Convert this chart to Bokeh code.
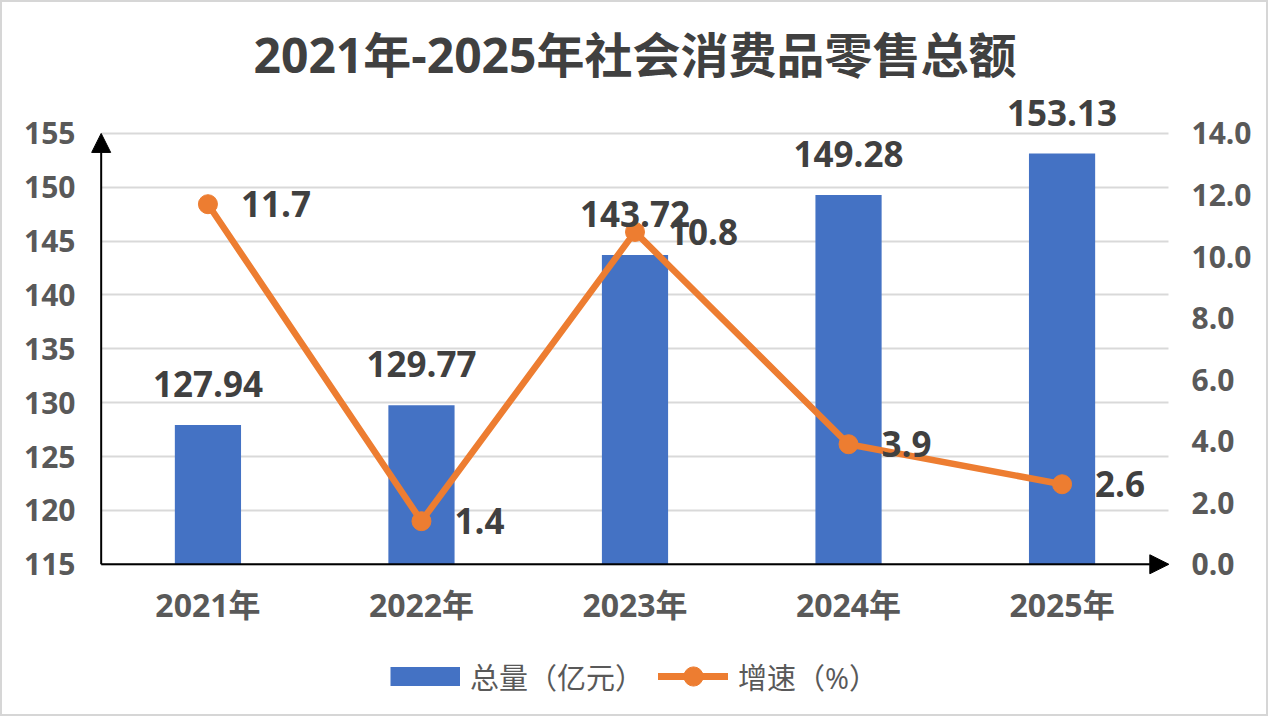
from bokeh.plotting import figure
from bokeh.layouts import column
from bokeh.models import (ColumnDataSource, Range1d, FactorRange, LinearAxis, FixedTicker,
                          PrintfTickFormatter, LabelSet, Legend, LegendItem, Arrow, NormalHead)
from bokeh.core.properties import value
from bokeh.embed import file_html
from bokeh.resources import INLINE

# ---- data ----
years = ["2021年", "2022年", "2023年", "2024年", "2025年"]
totals = [127.94, 129.77, 143.72, 149.28, 153.13]
growth = [11.7, 1.4, 10.8, 3.9, 2.6]
total_labels = ["127.94", "129.77", "143.72", "149.28", "153.13"]
growth_labels = ["11.7", "1.4", "10.8", "3.9", "2.6"]
left_ticks = [115, 120, 125, 130, 135, 140, 145, 150, 155]
right_ticks = [0, 2, 4, 6, 8, 10, 12, 14]
title_text = "2021年-2025年社会消费品零售总额"
legend_labels = ["总量（亿元）", "增速（%）"]

FONT = "Open Sans, Noto Sans CJK SC"
BLUE = "#4472C4"
ORANGE = "#ED7D31"
GRAY = "#595959"
DARK = "#404040"

src = ColumnDataSource(dict(year=years, total=totals, growth=growth,
                            tlab=total_labels, glab=growth_labels))

# ranges padded a little so that the axis arrows are not clipped
L0, L1 = left_ticks[0], left_ticks[-1]
R0, R1 = right_ticks[0], right_ticks[-1]
pad_lo, pad_hi = 0.95, 3.8
k = (R1 - R0) / (L1 - L0)
y_range = Range1d(L0 - pad_lo, L1 + pad_hi)
right_range = Range1d(R0 - pad_lo * k, R1 + pad_hi * k)
x_range = FactorRange(factors=years, range_padding=0.05, range_padding_units="absolute")

W = 1264
H_MAIN = 640
H_LEG = 72

p = figure(x_range=x_range, y_range=y_range,
           width=W, height=H_MAIN, output_backend="svg", toolbar_location=None,
           min_border_left=88, min_border_right=87, min_border_top=90, min_border_bottom=68)
p.outline_line_color = None
p.background_fill_color = "white"
p.border_fill_color = "white"

p.title.text = title_text
p.title.align = "center"
p.title.text_font = FONT
p.title.text_font_size = "48px"
p.title.text_font_style = "bold"
p.title.text_color = DARK
p.title.standoff = 12

p.extra_y_ranges = {"right": right_range}

bars = p.vbar(x="year", top="total", bottom=L0, width=0.31, source=src,
              fill_color=BLUE, line_color=None)
line = p.line(x="year", y="growth", source=src, y_range_name="right",
              line_color=ORANGE, line_width=6.5)
dots = p.scatter(x="year", y="growth", source=src, y_range_name="right",
                 size=19, fill_color=ORANGE, line_color=ORANGE)

# axes
p.yaxis.ticker = FixedTicker(ticks=left_ticks)
for ax in [p.yaxis[0], p.xaxis[0]]:
    ax.axis_line_color = None
    ax.major_tick_line_color = None
    ax.minor_tick_line_color = None
    ax.major_label_text_font = FONT
    ax.major_label_text_font_style = "bold"
    ax.major_label_text_color = GRAY
p.yaxis.major_label_text_font_size = "30px"
p.yaxis.major_label_standoff = 9
p.xaxis.major_label_text_font_size = "32px"
p.xaxis.major_label_standoff = 2

rax = LinearAxis(y_range_name="right", ticker=FixedTicker(ticks=right_ticks),
                 formatter=PrintfTickFormatter(format="%.1f"))
rax.axis_line_color = None
rax.major_tick_line_color = None
rax.minor_tick_line_color = None
rax.major_label_text_font = FONT
rax.major_label_text_font_style = "bold"
rax.major_label_text_color = GRAY
rax.major_label_text_font_size = "30px"
rax.major_label_standoff = 6
p.add_layout(rax, "right")

p.xgrid.grid_line_color = None
p.ygrid.grid_line_color = "#D9D9D9"
p.ygrid.grid_line_width = 2
try:
    p.ygrid.cross_bounds = (0, len(years))
except Exception:
    pass

# axis arrows
p.add_layout(Arrow(end=NormalHead(size=19, fill_color="black", line_color="black"),
                   x_start=0, y_start=L0, x_end=0, y_end=L1,
                   line_color="black", line_width=2))
p.add_layout(Arrow(end=NormalHead(size=19, fill_color="black", line_color="black"),
                   x_start=0, y_start=L0, x_end=len(years), y_end=L0,
                   line_color="black", line_width=2))

# data labels
p.add_layout(LabelSet(x="year", y="total", text="tlab", source=src, y_offset=41,
                      text_align="center", text_baseline="middle",
                      text_font=value(FONT), text_font_size="35px",
                      text_font_style="bold", text_color=DARK))
p.add_layout(LabelSet(x="year", y="growth", text="glab", source=src, y_range_name="right",
                      x_offset=33, text_align="left", text_baseline="middle",
                      text_font=value(FONT), text_font_size="35px",
                      text_font_style="bold", text_color=DARK))

# ---- legend strip (hidden renderers, drawn only as legend swatches) ----
lf = figure(x_range=FactorRange(factors=years), y_range=Range1d(0, 1),
            width=W, height=H_LEG, output_backend="svg", toolbar_location=None,
            x_axis_type=None, y_axis_type=None,
            min_border_left=0, min_border_right=0, min_border_top=0, min_border_bottom=0)
lf.outline_line_color = None
lf.grid.visible = False
lf.background_fill_color = "white"
lf.border_fill_color = "white"
sw_bar = lf.line(x="year", y="total", source=src, line_color=BLUE, line_width=19,
                 line_cap="butt", visible=False)
sw_line = lf.line(x="year", y="growth", source=src, line_color=ORANGE, line_width=7,
                  line_cap="round", visible=False)
sw_dot = lf.scatter(x="year", y="growth", source=src, size=19,
                    fill_color=ORANGE, line_color=ORANGE, visible=False)
legend = Legend(items=[LegendItem(label=legend_labels[0], renderers=[sw_bar]),
                       LegendItem(label=legend_labels[1], renderers=[sw_line, sw_dot])],
                orientation="horizontal", location=(300, 14),
                label_text_font=FONT, label_text_font_size="29px", label_text_color=GRAY,
                glyph_width=70, glyph_height=48, label_height=48, label_standoff=10,
                spacing=14, padding=0, margin=0,
                border_line_color=None, background_fill_alpha=0)
lf.add_layout(legend)

layout = column(p, lf, spacing=0)
layout.styles = {"border": "2px solid #d6d6d6"}
open("out.html", "w").write(file_html(layout, INLINE))
